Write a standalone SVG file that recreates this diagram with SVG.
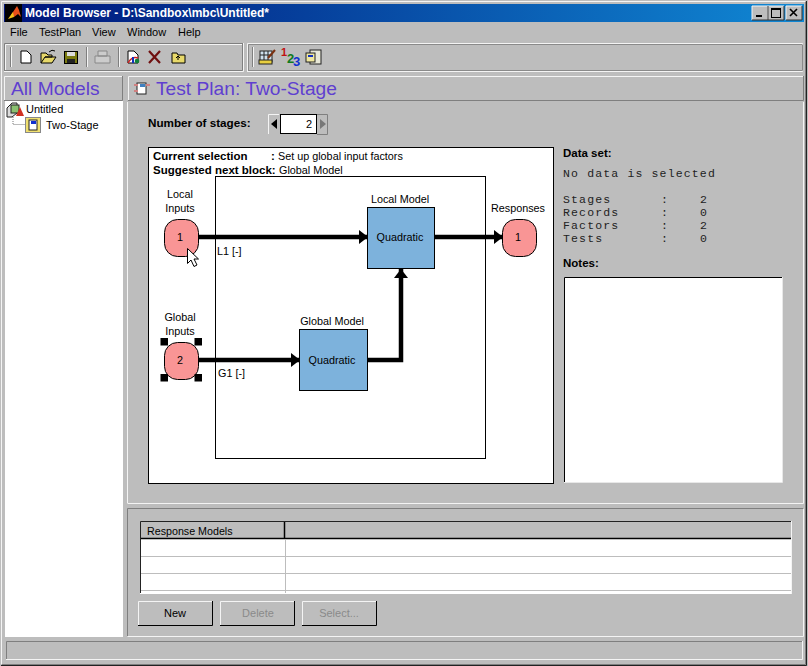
<svg xmlns="http://www.w3.org/2000/svg" width="808" height="666" viewBox="0 0 808 666">
<style>
text{font-family:"Liberation Sans",Arial,sans-serif;font-size:10.800px;fill:#000}
.m{font-size:11px}
.b{font-weight:bold;font-size:11.500px}
.h{font-size:19.200px;fill:#5f3fd0}
.c{text-anchor:middle}
.mono{font-family:"Liberation Mono","Courier New",monospace;font-size:11.500px;letter-spacing:1.150px;fill:#222}
.dis{fill:#8a8a8a}
.raisedL{stroke:#f4f4f4;fill:none}
.raisedD{stroke:#7f7f7f;fill:none}
.node{fill:#f99595;stroke:#000;stroke-width:1}
.block{fill:#7db2dc;stroke:#000;stroke-width:1}
.wire{stroke:#000;stroke-width:4.500;fill:none}
.handle{fill:#000}
.grid{stroke:#bdbdbd;stroke-width:1;fill:none}
</style>
<defs>
<linearGradient id="tb" x1="0" x2="1" y1="0" y2="0"><stop offset="0" stop-color="#00147a"/><stop offset="1" stop-color="#1088d4"/></linearGradient>
<marker id="ah" markerUnits="userSpaceOnUse" markerWidth="10" markerHeight="14" refX="9" refY="7" orient="auto"><path d="M0 0L9 7L0 14Z" fill="#000"/></marker>
</defs>
<rect width="808" height="666" fill="#bdbdbd"/>
<g id="window-frame">
<path d="M1.500 664V1.500H805" class="raisedL"/>
<path d="M806.500 1V665.500H1" fill="none" stroke="#222"/>
<path d="M805.500 2V664.500H2" class="raisedD"/>
<rect x="4" y="4" width="800" height="18" fill="url(#tb)"/>
<text x="25" y="17" style="font-size:12px;font-weight:bold;fill:#fff">Model Browser - D:\Sandbox\mbc\Untitled*</text>
<rect x="5" y="4" width="17" height="18" fill="#000"/>
<path d="M8 19L13 12L17 6L19 10L21 17L18 14L14 17L11 15Z" fill="#e8501a"/><path d="M8 19L13 12L14 17Z" fill="#f2c31b"/>
<rect x="752" y="6" width="16" height="14" fill="#bdbdbd"/><rect x="768" y="6" width="16" height="14" fill="#bdbdbd"/><rect x="786" y="6" width="16" height="14" fill="#bdbdbd"/>
<path d="M752 20V6H768M768 20V6H784M786 20V6H802" class="raisedL"/>
<path d="M768 6V20H752M784 6V20H768M802 6V20H786" stroke="#333" fill="none"/>
<rect x="756" y="15" width="6" height="2"/>
<rect x="771.500" y="8.500" width="9" height="9" fill="none" stroke="#000"/><rect x="771" y="8" width="10" height="2"/>
<path d="M790 9L797 16M797 9L790 16" stroke="#000" stroke-width="1.600"/>
</g>
<g id="menu">
<text class="m" x="10" y="36">File</text><text class="m" x="39" y="36">TestPlan</text><text class="m" x="92" y="36">View</text><text class="m" x="127" y="36">Window</text><text class="m" x="178" y="36">Help</text>
</g>
<g id="toolbar">
<path d="M4.500 71V43.500H243" class="raisedD"/><path d="M243.500 43V71.500H4" class="raisedL"/>
<path d="M5.500 70V44.500H242" class="raisedL"/><path d="M242.500 44V70.500H5" class="raisedD"/>
<path d="M247.500 71V43.500H802.500V71.500H247" class="raisedL"/><path d="M248.500 70V44.500H802M802.500 44.500V70.500H248" class="raisedD" style="stroke:#8a8a8a"/>
<path d="M10.500 47V67M86.500 47V67M118.500 47V67M252.500 47V67" class="raisedD"/>
<path d="M11.500 47V67M87.500 47V67M119.500 47V67M253.500 47V67" class="raisedL"/>
<path d="M21 51H27L31 55V63H21Z" fill="#fff" stroke="#000"/>
<path d="M41 63V53H46L48 55H52V57H45L41 63H52L56 57H45" fill="#e8d96a" stroke="#000"/><path d="M49 52Q52 49 55 51" fill="none" stroke="#000"/>
<rect x="64.500" y="51.500" width="13" height="12" fill="#7a7a10" stroke="#000"/><rect x="67" y="52" width="8" height="4" fill="#ddd"/><rect x="67" y="59" width="8" height="4" fill="#222"/>
<path d="M95 63V56H110V63ZM98 56V51H107V56Z" fill="#ccc" stroke="#888"/>
<path d="M128 51H134L138 55V63H128Z" fill="#fff" stroke="#000"/><path d="M128 63Q132 56 138 58" fill="none" stroke="#d02020" stroke-width="1.500"/><circle cx="137" cy="61" r="2.300" fill="#10803a"/><path d="M133 57V63" stroke="#1030c0" stroke-width="2"/>
<path d="M149 51L160 63M160 51L149 63" stroke="#701010" stroke-width="2.200"/>
<path d="M172 63V53H177L178 55H185V63Z" fill="#e8d96a" stroke="#000"/><path d="M178 60V57M176 58L178 56L180 58" stroke="#000" fill="none"/>
<rect x="260" y="51" width="12" height="11" fill="#cfe0ee" stroke="#222"/><path d="M260 55H272M264 51V62M268 51V62" stroke="#222"/><rect x="259" y="60" width="13" height="4" fill="#e8cf40" stroke="#222"/><path d="M268 58L275 50" stroke="#7a3010" stroke-width="2"/>
<text x="281" y="56" style="font-size:11px;font-weight:bold;fill:#c01010">1</text><text x="287" y="63" style="font-size:13px;font-weight:bold;fill:#107a20">2</text><text x="293" y="66" style="font-size:13px;font-weight:bold;fill:#1030d0">3</text>
<rect x="310" y="50" width="11" height="14" fill="#e8e8d8" stroke="#222"/><rect x="306" y="53" width="9" height="9" fill="#f0e8a0" stroke="#222"/><rect x="308" y="55" width="5" height="2" fill="#1030c0"/>
</g>
<g id="tree-panel">
<path d="M4.500 100V76.500H122" class="raisedL"/><path d="M122.500 76V100.500H4" class="raisedD"/>
<text class="h" x="11" y="95">All Models</text>
<rect x="5" y="101" width="118" height="536" fill="#fff"/>
<path d="M7 108L12 103H17V113L12 117H7Z" fill="#ddd" stroke="#222"/><rect x="11" y="105" width="8" height="8" fill="#8ac070" stroke="#222"/><path d="M16 116L20 107L24 116Z" fill="#d03020"/>
<text class="m" x="26" y="113">Untitled</text>
<path d="M13 117V124.500H25" fill="none" stroke="#777" stroke-dasharray="1 1"/>
<rect x="25.500" y="117.500" width="15" height="15" fill="#f0e070" stroke="#888"/><rect x="29" y="120" width="8" height="10" fill="#fff" stroke="#222"/><rect x="31" y="121" width="5" height="3" fill="#1030d0"/>
<text class="m" x="46" y="129">Two-Stage</text>
</g>
<g id="header">
<path d="M128.500 100V76.500H803" class="raisedL"/><path d="M803.500 76V100.500H128" class="raisedD"/>
<rect x="137" y="83" width="9" height="11" fill="#fff" stroke="#222"/><rect x="134" y="84" width="4" height="2" fill="#d08080"/><rect x="134" y="90" width="4" height="2" fill="#d08080"/><rect x="146" y="84" width="4" height="2" fill="#d08080"/><rect x="140" y="84" width="5" height="3" fill="#4080c0"/>
<text class="h" x="156" y="95">Test Plan: Two-Stage</text>
</g>
<g id="main-panel">
<path d="M127.500 503.500H803.500V102" class="raisedL"/>
<path d="M127.500 102V503" class="raisedL"/>
<text class="b" x="148" y="127" style="font-size:11.700px">Number of stages:</text>
<rect x="268" y="114" width="60" height="20" fill="#bdbdbd"/>
<path d="M268.500 134V114.500H279" class="raisedL"/><path d="M317 114.500H327.500V134.500H317" class="raisedD"/>
<path d="M277 119V129L271 124Z" fill="#000"/><path d="M320 119V129L326 124Z" fill="#777"/>
<rect x="280.500" y="114.500" width="36" height="19" fill="#fff" stroke="#000"/>
<text class="m" x="306" y="128">2</text>
<rect id="canvas" x="148.500" y="147.500" width="405" height="336" fill="#fff" stroke="#000"/>
<text x="153" y="160" class="b">Current selection</text><text x="271" y="160" class="b">:</text><text x="278" y="160">Set up global input factors</text>
<text x="153" y="174" class="b">Suggested next block:</text><text x="279" y="174">Global Model</text>
<rect x="215.500" y="176.500" width="270" height="282" fill="none" stroke="#000"/>
<text x="563" y="157" class="b">Data set:</text>
<text class="mono" x="563" y="177">No data is selected</text>
<text class="mono" x="563" y="203">Stages</text><text class="mono" x="661" y="203">:</text><text class="mono" x="700" y="203">2</text>
<text class="mono" x="563" y="216">Records</text><text class="mono" x="661" y="216">:</text><text class="mono" x="700" y="216">0</text>
<text class="mono" x="563" y="229">Factors</text><text class="mono" x="661" y="229">:</text><text class="mono" x="700" y="229">2</text>
<text class="mono" x="563" y="242">Tests</text><text class="mono" x="661" y="242">:</text><text class="mono" x="700" y="242">0</text>
<text x="563" y="267" class="b">Notes:</text>
<rect x="564" y="277" width="218" height="205" fill="#fff"/>
<path d="M564.500 482V277.500H782" stroke="#000" stroke-width="1" fill="none"/>
<path d="M782.500 277V482.500H564" stroke="#e8e8e8" fill="none"/>
</g>
<g id="connectors">
<path class="wire" d="M198 237H368" marker-end="url(#ah)"/>
<path class="wire" d="M198 360H300" marker-end="url(#ah)"/>
<path class="wire" d="M435 237H503" marker-end="url(#ah)"/>
<path class="wire" d="M368 360H401V269" marker-end="url(#ah)"/>
</g>
<g id="local-inputs">
<rect class="node" x="164.500" y="219.500" width="34" height="37" rx="13" ry="13"/>
<text class="c" x="180" y="198">Local</text><text class="c" x="180" y="212">Inputs</text>
<text class="c" x="180" y="241">1</text>
</g>
<g id="global-inputs">
<rect class="node" x="164.500" y="342.500" width="34" height="37" rx="13" ry="13"/>
<text class="c" x="180" y="321">Global</text><text class="c" x="180" y="335">Inputs</text>
<text class="c" x="180" y="364">2</text>
<rect class="handle" x="160.500" y="338" width="7.500" height="7.500"/><rect class="handle" x="194.500" y="338" width="7.500" height="7.500"/><rect class="handle" x="160.500" y="374" width="7.500" height="7.500"/><rect class="handle" x="194.500" y="374" width="7.500" height="7.500"/>
</g>
<g id="local-model">
<rect class="block" x="367.500" y="207.500" width="67" height="61"/>
<text class="c" x="400" y="203">Local Model</text>
<text class="c" x="400" y="241">Quadratic</text>
</g>
<g id="global-model">
<rect class="block" x="299.500" y="329.500" width="68" height="61"/>
<text class="c" x="332" y="325">Global Model</text>
<text class="c" x="332" y="364">Quadratic</text>
</g>
<g id="responses">
<rect class="node" x="502.500" y="219.500" width="34" height="37" rx="13" ry="13"/>
<text class="c" x="518" y="212">Responses</text>
<text class="c" x="518" y="241">1</text>
</g>
<text x="217" y="255">L1 [-]</text>
<text x="218" y="377">G1 [-]</text>
<path id="cursor" d="M187.500 248.500V263.500L191 260L194 266.500L197 265L194 259H198.500Z" fill="#fff" stroke="#000"/>
<g id="lower-panel">
<path d="M127.500 636V508.500H803" class="raisedD"/><path d="M127.500 636.500H803.500V509" class="raisedL"/>
<rect x="140" y="521" width="651" height="73" fill="#fff"/>
<rect x="140" y="521" width="651" height="18" fill="#bdbdbd"/>
<path d="M140.500 593V521.500H791" stroke="#222" fill="none"/>
<path d="M791.500 521V594" class="raisedL"/>
<path d="M141 538.500H791" stroke="#000" stroke-width="1.500"/>
<path d="M284.500 522V538" stroke="#000" stroke-width="1.500"/>
<path d="M141 556.500H791M141 573.500H791M141 590.500H791M285.500 539V593" class="grid"/>
<text x="147" y="535" style="font-size:10.700px">Response Models</text>
<path d="M138.500 625V601.500H212" class="raisedL"/><path d="M212.500 601V625.500H138" stroke="#000" fill="none"/>
<text class="m c" x="175" y="617">New</text>
<path d="M220.500 625V601.500H294" class="raisedL"/><path d="M294.500 601V625.500H220" stroke="#000" fill="none"/>
<text class="m c dis" x="258" y="617">Delete</text>
<path d="M302.500 625V601.500H376" class="raisedL"/><path d="M376.500 601V625.500H302" stroke="#000" fill="none"/>
<text class="m c dis" x="339" y="617">Select...</text>
</g>
<g id="status-bar">
<path d="M6.500 659V641.500H802" class="raisedD"/><path d="M802.500 641V659.500H6" class="raisedL"/>
</g>
</svg>
